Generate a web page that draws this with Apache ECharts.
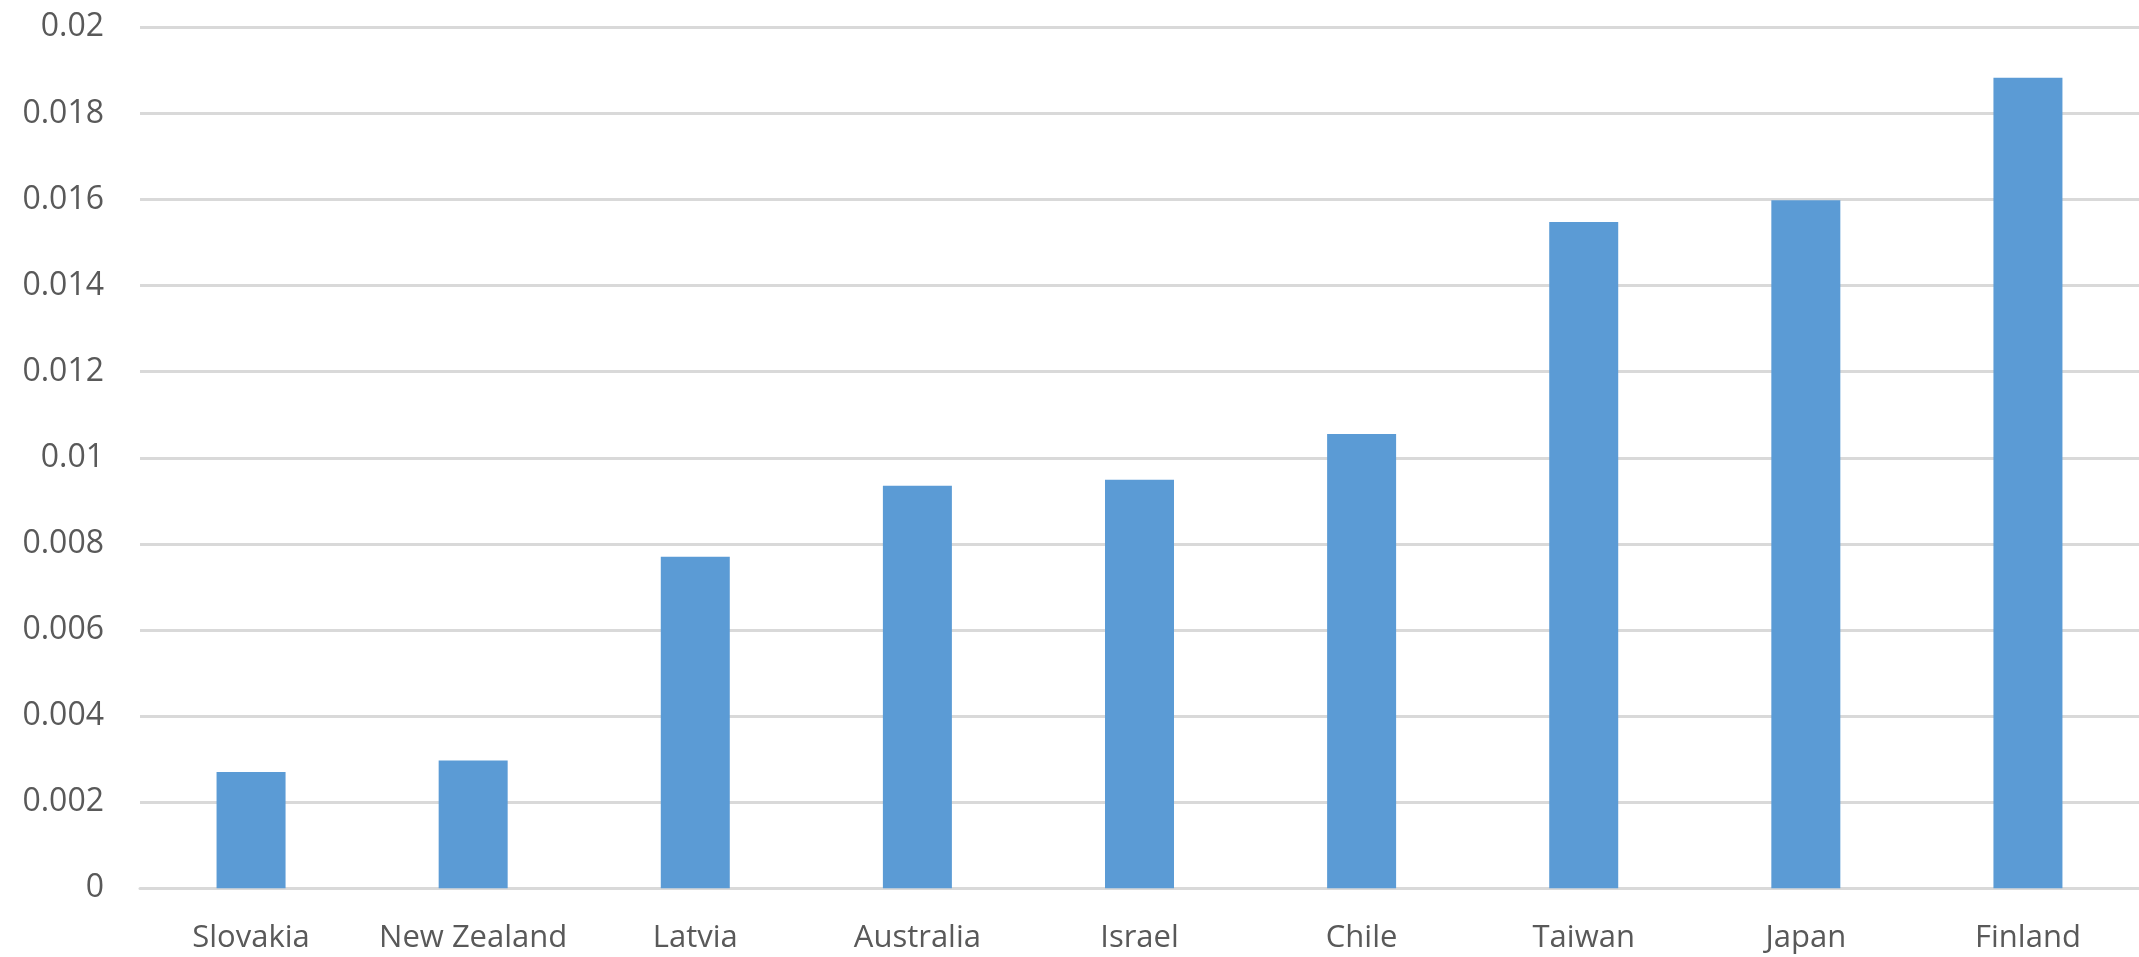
<!DOCTYPE html>
<html>
<head>
<meta charset="utf-8">
<script src="https://cdn.jsdelivr.net/npm/echarts@6/dist/echarts.min.js"></script>
<style>
html,body{margin:0;padding:0;background:#fff;}
#chart{width:2139px;height:957px;}
</style>
</head>
<body>
<div id="chart"></div>
<script>
const categories = ['Slovakia','New Zealand','Latvia','Australia','Israel','Chile','Taiwan','Japan','Finland'];
const values = [0.0027, 0.00297, 0.0077, 0.00935, 0.00949, 0.01055, 0.01548, 0.01598, 0.01883];
const yTicks = { min: 0, max: 0.02, interval: 0.002 };

const chart = echarts.init(document.getElementById('chart'), null, {renderer:'canvas'});
chart.setOption({
  animation: false,
  backgroundColor: '#ffffff',
  grid: { left: 140, right: 0, top: 27.3, bottom: 68.7, containLabel: false },
  xAxis: {
    type: 'category',
    data: categories,
    axisLine: { show: true, lineStyle: { color: '#d9d9d9', width: 3 } },
    axisTick: { show: false },
    axisLabel: { color: '#595959', fontFamily: 'Open Sans', fontSize: 31, margin: 34, interval: 0, hideOverlap: false },
    splitLine: { show: false }
  },
  yAxis: {
    type: 'value',
    min: yTicks.min, max: yTicks.max, interval: yTicks.interval,
    axisLine: { show: false },
    axisTick: { show: false },
    axisLabel: {
      color: '#595959', fontFamily: 'Open Sans', fontSize: 32, margin: 36,
      formatter: v => String(parseFloat(v.toFixed(4)))
    },
    splitLine: { show: true, lineStyle: { color: '#d9d9d9', width: 3 } }
  },
  series: [{
    type: 'bar',
    data: values,
    barWidth: 69,
    itemStyle: { color: '#5b9bd5' }
  }]
});
</script>
</body>
</html>
